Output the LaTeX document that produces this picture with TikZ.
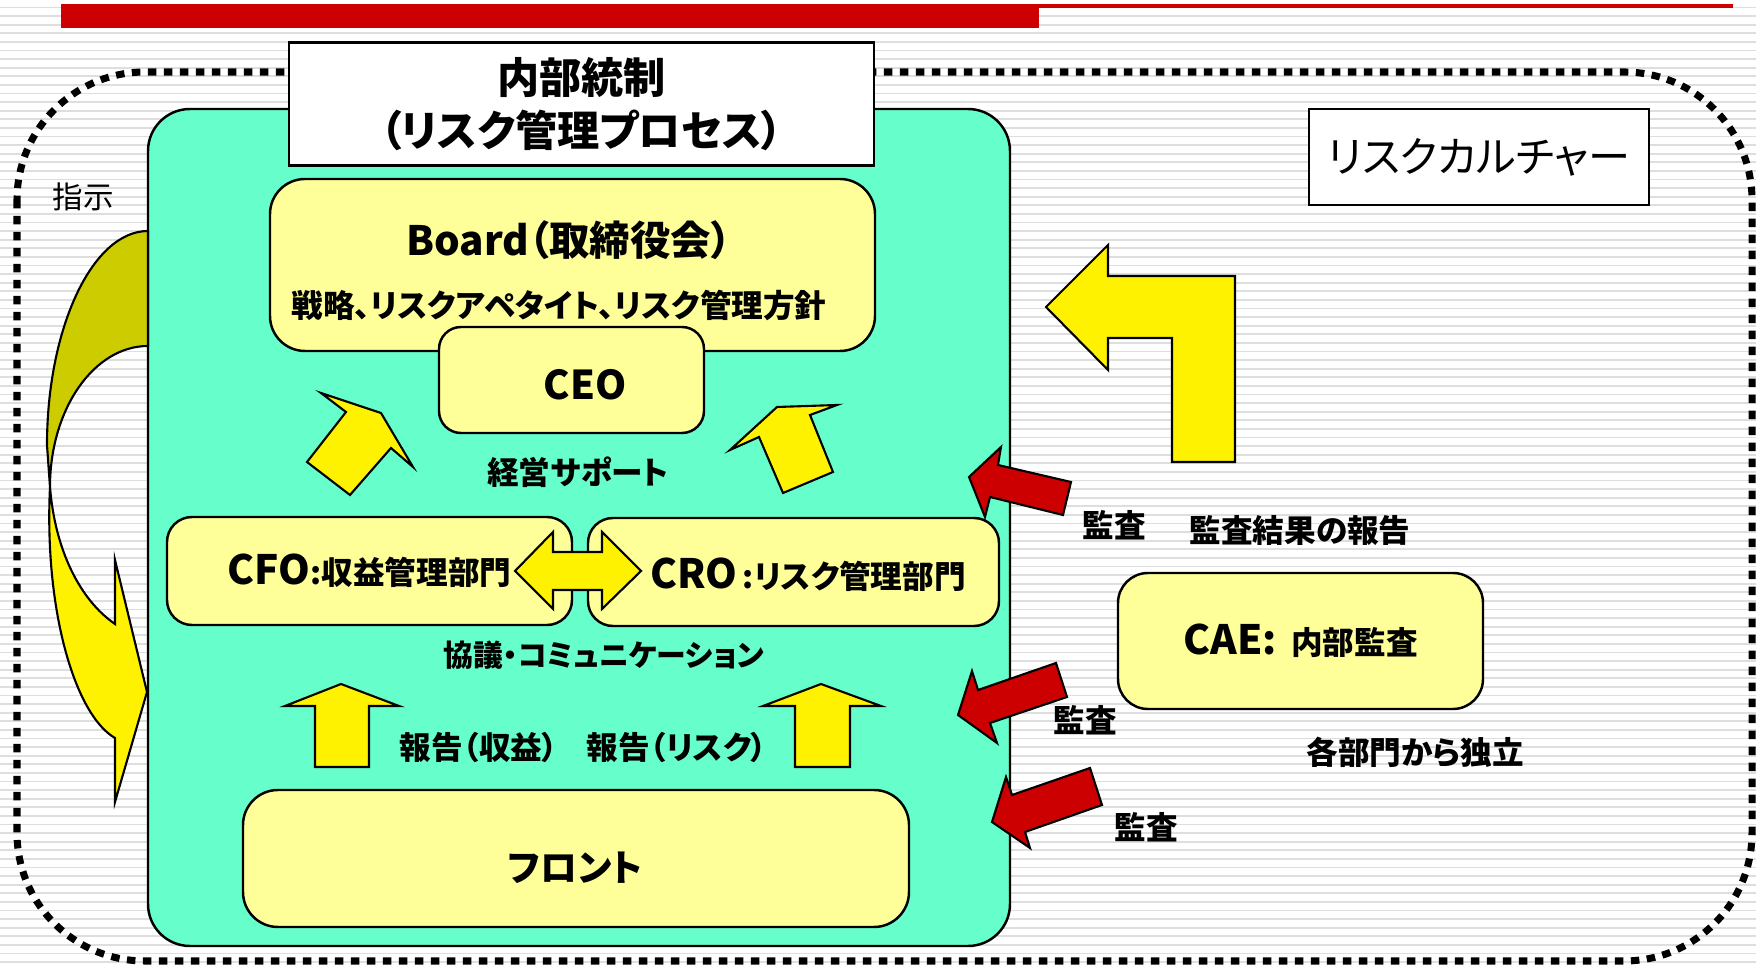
\documentclass[tikz,border=0pt]{standalone}
\usepackage{fontspec}
\setmainfont[RawFeature=+palt]{Noto Sans CJK JP}
\definecolor{ctrlteal}{HTML}{66FFCC}
\definecolor{boxyellow}{HTML}{FFFF99}
\definecolor{auditred}{HTML}{CC0000}
\definecolor{backolive}{HTML}{CCCC00}
\newcommand{\bigsz}{\fontsize{11.5}{13}\selectfont}

\tikzset{
    stripe/.style={draw=black!13, line width=0.5pt},
    ybox/.style={draw, line width=0.7pt, fill=boxyellow, inner sep=0pt},
    wbox/.style={draw, line width=0.8pt, fill=white, inner sep=0pt},
    blockarrow/.style={draw, line width=0.6pt, line join=miter},
    lab/.style={font=\bfseries\fontsize{9}{11}\selectfont, inner sep=0pt},
    smalllab/.style={font=\bfseries\fontsize{8.5}{10}\selectfont, inner sep=0pt},
}

\begin{document}
\begin{tikzpicture}[x=0.1mm, y=-0.1mm]
    \useasboundingbox (0,0) rectangle (1756,967);

    % striped background
    \fill[white] (0,0) rectangle (1756,967);
    \foreach \i in {0,...,112}
        \draw[stripe] (0,{7.5+8.6*\i}) -- (1756,{7.5+8.6*\i});

    % title bar
    \fill[auditred] (61,4) rectangle (1039,28);
    \fill[auditred] (1039,4) rectangle (1733,8);

    % risk culture frame
    \draw[line width=2pt, dash pattern=on 0.85mm off 0.75mm, rounded corners=12.8mm]
        (17,72) rectangle (1752,961);

    % internal control
    \node[draw, line width=0.7pt, fill=ctrlteal, rounded corners=4.2mm, inner sep=0pt,
          minimum width=86.2mm, minimum height=83.7mm] (ctrl) at (579,527.5) {};
    \node[wbox, align=center, minimum width=58.5mm, minimum height=12.3mm,
          font=\bfseries\fontsize{12}{15}\selectfont] (title) at (581.5,104)
        {内部統制\\（リスク管理プロセス）};

    % instruction (curved arrow)
    \node[font=\fontsize{8.7}{10}\selectfont, inner sep=0pt] (instr) at (83,197) {指示};
    \draw[blockarrow, fill=backolive] (148,231) .. controls (92,231) and (47,329) .. (47,445)
        -- (50,487) .. controls (50,409) and (94,346) .. (148,346) -- cycle;
    \draw[blockarrow, fill=yellow] (50,487) .. controls (44,610) and (75,715) .. (115,738)
        -- (115,802) -- (147,692) -- (115,560) -- (115,624)
        .. controls (80,600) and (55,550) .. (50,487) -- cycle;

    % board and CEO
    \node[ybox, rounded corners=3.5mm, minimum width=60.5mm, minimum height=17.2mm] (board) at (572.5,265) {};
    \node[font=\bfseries\bigsz, inner sep=0pt] (boardname) at (569,240) {Board（取締役会）};
    \node[lab] (policy) at (559,305) {戦略、リスクアペタイト、リスク管理方針};
    \node[ybox, rounded corners=2.2mm, minimum width=26.5mm, minimum height=10.6mm] (ceo) at (571.5,380) {};
    \node[font=\bfseries\fontsize{11.3}{13}\selectfont, inner sep=0pt] (ceoname) at (585,385) {CEO};

    % support arrows
    \draw[blockarrow, fill=yellow] (307,462) -- (346,412) -- (321,393) -- (381,413)
        -- (413,467) -- (391,448) -- (350,495) -- cycle;
    \draw[blockarrow, fill=yellow] (783,493) -- (759,437) -- (730,450) -- (777,407)
        -- (837,405) -- (810,415) -- (833,472) -- cycle;
    \node[font=\bfseries\fontsize{9}{10}\selectfont, inner sep=0pt] (support) at (578,472) {経営サポート};

    % CFO and CRO
    \node[ybox, lab, rounded corners=2.5mm, minimum width=40.5mm, minimum height=10.8mm]
        (cfo) at (369.5,571) {{\bigsz CFO}:収益管理部門};
    \node[ybox, rounded corners=2.5mm, minimum width=41.1mm, minimum height=10.8mm]
        (cro) at (793.5,572) {};
    \node[lab] (croname) at (808,575) {{\bigsz CRO}\,:リスク管理部門};
    \draw[blockarrow, fill=yellow] (515,571) -- (553,532) -- (553,552) -- (602,552)
        -- (602,532) -- (641,571) -- (602,609) -- (602,590) -- (553,590) -- (553,609) -- cycle;
    \node[smalllab] (consult) at (604,655) {協議・コミュニケーション};

    % reporting arrows
    \draw[blockarrow, fill=yellow] (315,767) -- (315,706) -- (285,706) -- (341,684)
        -- (399,706) -- (369,706) -- (369,767) -- cycle;
    \draw[blockarrow, fill=yellow] (795,767) -- (795,706) -- (763,706) -- (821,684)
        -- (881,706) -- (850,706) -- (850,767) -- cycle;
    \node[lab] (repprofit) at (479,747) {報告（収益）};
    \node[lab] (reprisk) at (677,747) {報告（リスク）};

    % front office
    \node[ybox, rounded corners=3.5mm, minimum width=66.6mm, minimum height=13.7mm] (front) at (576,858.5) {};
    \node[font=\bfseries\fontsize{10.5}{12}\selectfont, inner sep=0pt] (frontname) at (575,868) {フロント};

    % risk culture
    \node[wbox, minimum width=34mm, minimum height=9.6mm,
          font=\fontsize{12}{14}\selectfont] (culture) at (1479,157) {リスクカルチャー};
    \draw[blockarrow, fill=yellow] (1046,307) -- (1108,245) -- (1108,276) -- (1235,276)
        -- (1235,462) -- (1172,462) -- (1172,338) -- (1108,338) -- (1108,370) -- cycle;

    % internal audit
    \node[ybox, lab, rounded corners=3mm, minimum width=36.5mm, minimum height=13.6mm]
        (cae) at (1300.5,641) {{\bigsz CAE:}\ \ 内部監査};
    \node[lab] (auditrep) at (1300,530) {監査結果の報告};
    \node[lab] (indep) at (1415,752) {各部門から独立};

    % audit arrows
    \draw[blockarrow, fill=auditred] (969,477) -- (1001,447) -- (998,465) -- (1071,482)
        -- (1063,515) -- (990,497) -- (985,517) -- cycle;
    \draw[blockarrow, fill=auditred] (958,715) -- (972,671) -- (978,690) -- (1056,663)
        -- (1067,697) -- (990,723) -- (997,743) -- cycle;
    \draw[blockarrow, fill=auditred] (992,822) -- (1006,777) -- (1012,795) -- (1090,768)
        -- (1102,805) -- (1025,832) -- (1030,848) -- cycle;
    \node[lab] (audita) at (1114,525) {監査};
    \node[lab] (auditb) at (1085,720) {監査};
    \node[lab] (auditc) at (1146,827) {監査};
\end{tikzpicture}
\end{document}
